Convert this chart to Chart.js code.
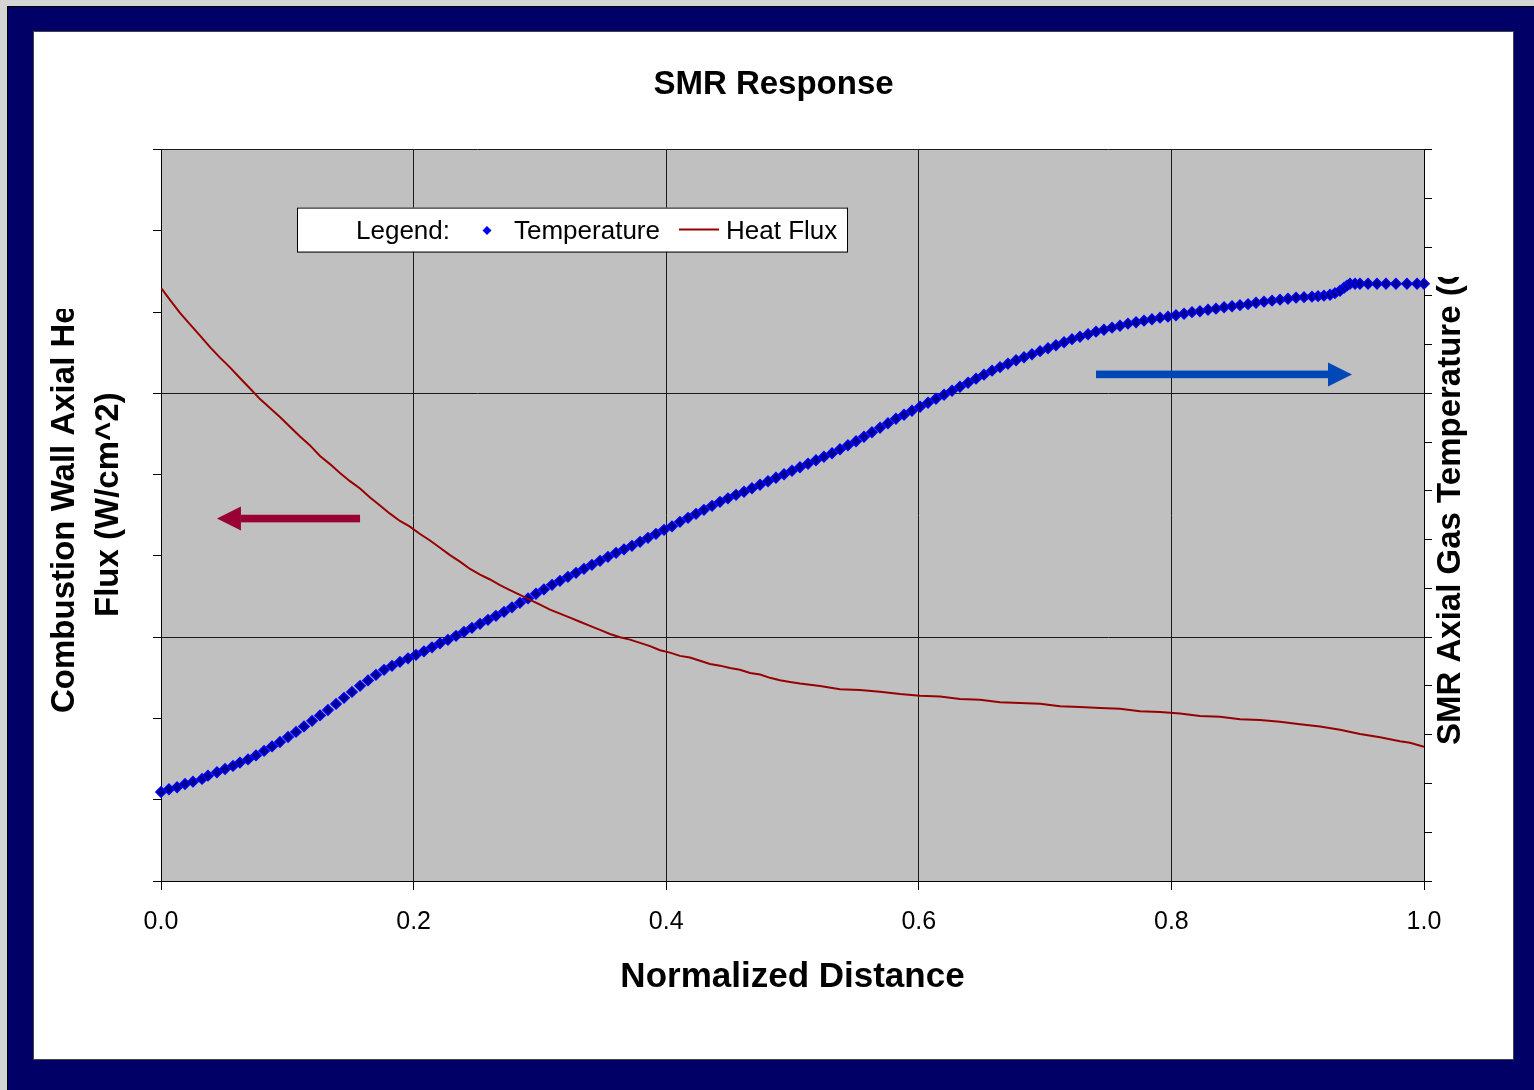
<!DOCTYPE html>
<html>
<head>
<meta charset="utf-8">
<title>SMR Response</title>
<script src="https://cdn.jsdelivr.net/npm/chart.js@4.4.0/dist/chart.umd.min.js"></script>
<style>
  html, body { margin: 0; padding: 0; }
  body { width: 1534px; height: 1090px; background: #d4d4d4; position: relative; overflow: hidden; }
  #frame { position: absolute; left: 7px; top: 6px; right: 0; bottom: 0; background: #000066; border-left: 1px solid #000; border-top: 1px solid #000; }
  #panel { position: absolute; left: 33px; top: 31px; width: 1479px; height: 1027px; background: #fff; border: 1px solid #444; }
  canvas { display: block; }
</style>
</head>
<body>
<div id="frame"></div>
<div id="panel"><canvas id="smrChart" width="1479" height="1027"></canvas></div>
<script>
// normalized distance / gas temperature (right axis)
const tempX = [
  0, 0.0063, 0.0127, 0.0190, 0.0253, 0.0325, 0.0372, 0.0443, 0.0507, 0.0570,
  0.0625, 0.0689, 0.0752, 0.0816, 0.0879, 0.0942, 0.1006, 0.1069, 0.1132, 0.1196,
  0.1259, 0.1322, 0.1386, 0.1449, 0.1512, 0.1576, 0.1639, 0.1702, 0.1766, 0.1829,
  0.1892, 0.1956, 0.2019, 0.2082, 0.2146, 0.2209, 0.2272, 0.2336, 0.2399, 0.2462,
  0.2526, 0.2589, 0.2652, 0.2716, 0.2779, 0.2842, 0.2906, 0.2969, 0.3032, 0.3096,
  0.3159, 0.3222, 0.3286, 0.3349, 0.3412, 0.3476, 0.3539, 0.3603, 0.3666, 0.3729,
  0.3793, 0.3856, 0.3919, 0.3983, 0.4046, 0.4109, 0.4173, 0.4236, 0.4299, 0.4363,
  0.4426, 0.4489, 0.4553, 0.4616, 0.4679, 0.4743, 0.4806, 0.4869, 0.4933, 0.4996,
  0.5059, 0.5123, 0.5186, 0.5249, 0.5313, 0.5376, 0.5439, 0.5503, 0.5566, 0.5629,
  0.5693, 0.5756, 0.5819, 0.5883, 0.5946, 0.6010, 0.6073, 0.6136, 0.6200, 0.6263,
  0.6326, 0.6390, 0.6453, 0.6516, 0.6580, 0.6643, 0.6706, 0.6770, 0.6833, 0.6896,
  0.6960, 0.7023, 0.7086, 0.7150, 0.7213, 0.7276, 0.7340, 0.7403, 0.7466, 0.7530,
  0.7593, 0.7656, 0.7720, 0.7783, 0.7846, 0.7910, 0.7973, 0.8036, 0.8100, 0.8163,
  0.8226, 0.8290, 0.8353, 0.8417, 0.8480, 0.8543, 0.8607, 0.8670, 0.8733, 0.8797,
  0.8860, 0.8923, 0.8987, 0.9050, 0.9113, 0.9161, 0.9208, 0.9256, 0.9295, 0.9335,
  0.9367, 0.9390, 0.9414, 0.9454, 0.9493, 0.9557, 0.9628, 0.9699, 0.9778, 0.9865,
  0.9945, 1.0
];
const tempC = [
  391.3, 394.1, 396.1, 399.5, 401.9, 404.7, 408.0, 411.5, 414.9, 418.0,
  421.4, 424.7, 428.8, 433.4, 438.0, 442.6, 447.7, 452.9, 458.5, 464.2,
  469.8, 475.4, 481.6, 487.8, 493.9, 500.1, 505.7, 511.4, 516.5, 520.6,
  524.7, 528.3, 531.9, 535.5, 539.6, 543.7, 547.3, 551.4, 555.5, 559.6,
  563.7, 567.8, 571.9, 576.0, 580.6, 585.2, 589.8, 594.5, 599.1, 603.7,
  607.8, 611.9, 616.0, 620.1, 624.2, 628.3, 632.4, 636.5, 640.1, 643.7,
  647.8, 651.9, 656.0, 660.1, 663.7, 668.3, 672.4, 676.5, 680.6, 684.7,
  688.8, 692.4, 696.0, 699.1, 702.7, 706.3, 709.9, 713.5, 717.1, 720.7,
  724.3, 727.9, 731.4, 735.0, 738.6, 742.7, 746.8, 750.9, 755.5, 760.2,
  764.8, 769.4, 774.0, 778.1, 782.2, 786.3, 790.4, 794.5, 798.6, 802.7,
  806.8, 810.9, 815.1, 819.2, 823.3, 826.9, 830.4, 834.0, 837.1, 840.2,
  843.3, 846.3, 849.4, 852.5, 855.6, 858.1, 860.7, 863.3, 865.3, 867.4,
  869.4, 871.5, 873.0, 874.6, 876.1, 877.7, 878.7, 880.2, 881.7, 883.3,
  884.3, 885.8, 886.9, 888.4, 889.4, 890.5, 891.5, 893.0, 894.1, 895.1,
  896.1, 897.1, 898.2, 898.7, 899.2, 899.7, 900.2, 901.2, 902.8, 905.3,
  908.4, 910.5, 912.5, 912.5, 912.5, 912.5, 912.5, 912.5, 912.5, 912.5,
  912.5, 912.5
];

// normalized distance / wall heat flux (left axis)
const fluxX = [
  0, 0.0071, 0.0150, 0.0230, 0.0309, 0.0388, 0.0467, 0.0546, 0.0625, 0.0705,
  0.0784, 0.0863, 0.0942, 0.1021, 0.1101, 0.1180, 0.1259, 0.1338, 0.1417, 0.1496,
  0.1576, 0.1655, 0.1734, 0.1813, 0.1892, 0.1971, 0.2051, 0.2130, 0.2209, 0.2288,
  0.2367, 0.2447, 0.2526, 0.2605, 0.2684, 0.2763, 0.2842, 0.2922, 0.3001, 0.3080,
  0.3159, 0.3238, 0.3317, 0.3397, 0.3476, 0.3555, 0.3634, 0.3713, 0.3793, 0.3872,
  0.3951, 0.4030, 0.4109, 0.4188, 0.4268, 0.4347, 0.4426, 0.4505, 0.4584, 0.4664,
  0.4743, 0.4822, 0.4901, 0.4980, 0.5059, 0.5218, 0.5376, 0.5534, 0.5693, 0.5851,
  0.6010, 0.6168, 0.6326, 0.6485, 0.6643, 0.6801, 0.6960, 0.7118, 0.7276, 0.7435,
  0.7593, 0.7751, 0.7910, 0.8068, 0.8226, 0.8385, 0.8543, 0.8701, 0.8860, 0.9018,
  0.9177, 0.9335, 0.9493, 0.9652, 0.9810, 0.9889, 1.0
];
const fluxW = [
  7.30, 7.15, 6.99, 6.85, 6.71, 6.57, 6.44, 6.32, 6.19, 6.06,
  5.93, 5.82, 5.71, 5.59, 5.47, 5.36, 5.23, 5.13, 5.02, 4.92,
  4.83, 4.72, 4.62, 4.52, 4.43, 4.36, 4.27, 4.19, 4.10, 4.01,
  3.93, 3.84, 3.77, 3.71, 3.64, 3.58, 3.52, 3.46, 3.40, 3.34,
  3.29, 3.24, 3.19, 3.14, 3.09, 3.04, 3.00, 2.97, 2.93, 2.89,
  2.84, 2.81, 2.77, 2.75, 2.71, 2.67, 2.65, 2.62, 2.60, 2.56,
  2.54, 2.50, 2.47, 2.45, 2.43, 2.40, 2.36, 2.35, 2.33, 2.30,
  2.28, 2.27, 2.24, 2.23, 2.20, 2.19, 2.18, 2.15, 2.14, 2.13,
  2.12, 2.09, 2.08, 2.06, 2.03, 2.02, 1.99, 1.98, 1.96, 1.93,
  1.90, 1.86, 1.81, 1.77, 1.72, 1.70, 1.65
];

const xTickValues = [0, 0.2, 0.4, 0.6, 0.8, 1.0];
const xTickLabels = ["0.0", "0.2", "0.4", "0.6", "0.8", "1.0"];
const leftGridValues = [3, 6, 9];

const chartTitle = "SMR Response";
const xTitle = "Normalized Distance";
const leftTitle = ["Combustion Wall Axial Heat", "Flux (W/cm^2)"];
const rightTitle = "SMR Axial Gas Temperature (C)";

// the two arrows pointing at each series' axis
const redArrow = {from: 0.1576, to: 0.0443, y: 4.46, axis: "y", color: "#990033"};
const blueArrow = {from: 0.7403, to: 0.9430, y: 819.5, axis: "y2", color: "#0047b8"};

const FONT = '"Liberation Sans", Arial, sans-serif';
Chart.defaults.font.family = FONT;
Chart.defaults.color = "#000";

const gridColor = "#1a1a1a";

function drawUp(ctx, text, x, y) {
    ctx.save();
    ctx.translate(x, y);
    ctx.rotate(-Math.PI / 2);
    ctx.fillText(text, 0, 0);
    ctx.restore();
}

function drawArrow(ctx, chart, a) {
    let xs = chart.scales.x;
    let x0 = xs.getPixelForValue(a.from);
    let x1 = xs.getPixelForValue(a.to);
    let y = chart.scales[a.axis].getPixelForValue(a.y);
    let dir = Math.sign(x1 - x0);
    let base = x1 - dir * 24;
    ctx.fillStyle = a.color;
    ctx.fillRect(Math.min(x0, base), y - 3.8, Math.abs(base - x0), 7.6);
    ctx.beginPath();
    ctx.moveTo(x1, y);
    ctx.lineTo(base, y - 12);
    ctx.lineTo(base, y + 12);
    ctx.closePath();
    ctx.fill();
}

const plotBackground = {
    id: "plotBackground",
    beforeDraw(chart) {
        let {ctx, chartArea: a} = chart;
        ctx.save();
        ctx.fillStyle = "#c0c0c0";
        ctx.fillRect(a.left, a.top, a.right - a.left, a.bottom - a.top);
        ctx.restore();
    }
};

const arrows = {
    id: "arrows",
    afterDatasetsDraw(chart) {
        let ctx = chart.ctx;
        ctx.save();
        drawArrow(ctx, chart, redArrow);
        drawArrow(ctx, chart, blueArrow);
        ctx.restore();
    }
};

/*legend box with the "Legend:" caption, inside the plot*/
const legendBox = {
    id: "legendBox",
    afterDraw(chart) {
        let {ctx, chartArea: a} = chart;
        let ds = chart.data.datasets;
        let left = a.left + 136, top = a.top + 58, w = 550, h = 44;
        let mid = top + h / 2;
        ctx.save();
        ctx.fillStyle = "#fff";
        ctx.fillRect(left, top, w, h);
        ctx.strokeStyle = "#000";
        ctx.lineWidth = 1;
        ctx.strokeRect(left + 0.5, top + 0.5, w, h);
        ctx.font = "26px " + FONT;
        ctx.fillStyle = "#000";
        ctx.textBaseline = "middle";
        ctx.fillText("Legend:", left + 59, mid + 2);
        // temperature marker
        let dx = left + 190;
        ctx.beginPath();
        ctx.moveTo(dx - 4.5, mid + 1);
        ctx.lineTo(dx, mid - 3.5);
        ctx.lineTo(dx + 4.5, mid + 1);
        ctx.lineTo(dx, mid + 5.5);
        ctx.closePath();
        ctx.fillStyle = ds[1].backgroundColor;
        ctx.fill();
        ctx.fillStyle = "#000";
        ctx.fillText(ds[1].label, left + 217, mid + 2);
        // heat flux line
        ctx.strokeStyle = ds[0].borderColor;
        ctx.lineWidth = 2;
        ctx.beginPath();
        ctx.moveTo(left + 382, mid);
        ctx.lineTo(left + 422, mid);
        ctx.stroke();
        ctx.fillText(ds[0].label, left + 429, mid + 2);
        ctx.restore();
    }
};

/*rotated axis titles, cut off at the top like in the original*/
const sideTitles = {
    id: "sideTitles",
    afterDraw(chart) {
        let ctx = chart.ctx;
        ctx.save();
        ctx.fillStyle = "#000";
        ctx.font = "bold 33px " + FONT;
        ctx.textBaseline = "middle";
        ctx.textAlign = "left";
        ctx.save();
        ctx.beginPath();
        ctx.rect(0, 277, 120, 750);
        ctx.clip();
        drawUp(ctx, leftTitle[0], 31, 681);
        drawUp(ctx, leftTitle[1], 75, 585);
        ctx.restore();
        ctx.save();
        ctx.beginPath();
        ctx.rect(1395, 245, 84, 782);
        ctx.clip();
        drawUp(ctx, rightTitle, 1417, 713);
        ctx.restore();
        ctx.restore();
    }
};

const tempPoints = tempX.map((x, i) => ({x: x, y: tempC[i]}));
const fluxPoints = fluxX.map((x, i) => ({x: x, y: fluxW[i]}));

const config = {
    type: "line",
    data: {
        datasets: [
            {
                label: "Heat Flux",
                data: fluxPoints,
                yAxisID: "y",
                borderColor: "#960000",
                borderWidth: 2,
                pointRadius: 0,
                tension: 0,
                fill: false,
                order: 0
            },
            {
                label: "Temperature",
                data: tempPoints,
                yAxisID: "y2",
                showLine: false,
                pointStyle: "rectRot",
                pointRadius: 5.2,
                pointBackgroundColor: "#000090",
                backgroundColor: "#0000ee",
                pointBorderColor: "#0000ff",
                pointBorderWidth: 1.4,
                clip: false,
                order: 1
            }
        ]
    },
    options: {
        responsive: false,
        animation: false,
        layout: {padding: 0},
        plugins: {
            legend: {display: false},
            tooltip: {enabled: false},
            title: {
                display: true,
                text: chartTitle,
                color: "#000",
                font: {size: 33, weight: "bold"},
                padding: {top: 33, bottom: 45}
            }
        },
        scales: {
            x: {
                type: "linear",
                position: "bottom",
                min: 0,
                max: 1,
                afterBuildTicks: (s) => { s.ticks = xTickValues.map(v => ({value: v})); },
                afterFit: (s) => { s.height = 178; },
                ticks: {
                    font: {size: 25},
                    color: "#000",
                    padding: 17,
                    callback: (v, i) => xTickLabels[i]
                },
                grid: {color: gridColor, tickColor: "#000", tickLength: 9, lineWidth: 1},
                border: {display: true, color: "#000", width: 1},
                title: {
                    display: true,
                    text: xTitle,
                    color: "#000",
                    font: {size: 35, weight: "bold"},
                    padding: {top: 0, bottom: 61}
                }
            },
            y: {
                type: "linear",
                position: "left",
                min: 0,
                max: 9,
                ticks: {display: false, stepSize: 1},
                afterFit: (s) => { s.width = 127; },
                grid: {
                    color: (c) => leftGridValues.includes(c.tick && c.tick.value) ? gridColor : "rgba(0,0,0,0)",
                    tickColor: "#000",
                    tickLength: 8
                },
                border: {display: true, color: "#000", width: 1}
            },
            y2: {
                type: "linear",
                position: "right",
                min: 300,
                max: 1050,
                ticks: {display: false, stepSize: 50},
                afterFit: (s) => { s.width = 89; },
                grid: {drawOnChartArea: false, tickColor: "#000", tickLength: 8},
                border: {display: true, color: "#000", width: 1}
            }
        }
    },
    plugins: [plotBackground, arrows, legendBox, sideTitles]
};

window.onload = function () {
    const smrChart = new Chart(document.getElementById("smrChart"), config);
};
</script>
</body>
</html>
